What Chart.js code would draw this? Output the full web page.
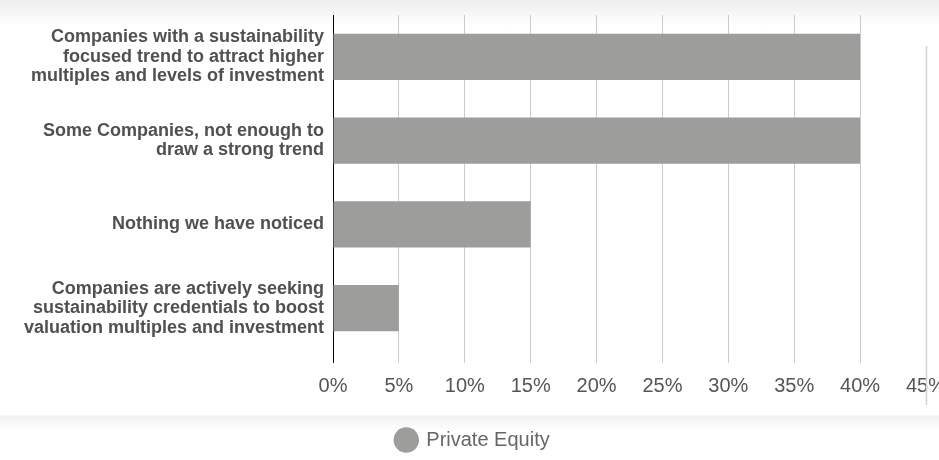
<!DOCTYPE html>
<html>
<head>
<meta charset="utf-8">
<title>Sustainability and valuations</title>
<script src="https://cdn.jsdelivr.net/npm/chart.js@4.4.1/dist/chart.umd.min.js"></script>
<style>
  html, body { margin: 0; padding: 0; }
  body {
    width: 939px;
    height: 460px;
    background:
      linear-gradient(to bottom, #eeeeee 0px, #ffffff 26px, #ffffff 100%) top / 100% 30px no-repeat,
      linear-gradient(to bottom, #ffffff 0px, #f1f1f1 1px, #ffffff 16px) 0 415px / 100% 20px no-repeat,
      #ffffff;
  }
  #wrap { position: relative; width: 939px; height: 460px; }
</style>
</head>
<body>
<div id="wrap"><canvas id="myChart"></canvas></div>
<script>
// categories (multi-line labels), series and axis ticks
const categories = [
  ['Companies with a sustainability', 'focused trend to attract higher', 'multiples and levels of investment'],
  ['Some Companies, not enough to', 'draw a strong trend'],
  ['Nothing we have noticed'],
  ['Companies are actively seeking', 'sustainability credentials to boost', 'valuation multiples and investment']
]
const privateEquity = [40, 40, 15, 5]
const tickMax = 45
const tickStep = 5

const FONT = "'Liberation Sans', Arial, Helvetica, sans-serif"

// last grid line sits a bit off the grid, drawn separately
const lastLine = {
  id: 'lastLine',
  afterDatasetsDraw (chart) {
    const x = Math.round(chart.scales.x.getPixelForValue(tickMax)) + 0.5
    const ctx = chart.ctx
    ctx.save()
    ctx.strokeStyle = '#d4d4d4'
    ctx.lineWidth = 1.5
    ctx.beginPath()
    ctx.moveTo(x, 46)
    ctx.lineTo(x, 405)
    ctx.stroke()
    ctx.restore()
  }
}

const ctx = document.getElementById('myChart')
const myChart = new Chart(ctx, {
  type: 'bar',
  data: {
    labels: categories,
    datasets: [{
      label: 'Private Equity',
      data: privateEquity,
      backgroundColor: '#9d9d9b',
      borderWidth: 0,
      barPercentage: 0.55,
      categoryPercentage: 1
    }]
  },
  options: {
    indexAxis: 'y',
    responsive: true,
    maintainAspectRatio: false,
    animation: false,
    layout: {
      padding: { top: 15, right: 13, left: 20, bottom: 0 }
    },
    scales: {
      x: {
        min: 0,
        max: tickMax,
        border: { display: false },
        grid: {
          tickLength: 13,
          lineWidth: 1,
          color: (c) => c.tick && c.tick.value === 0 ? '#000000' : (c.tick && c.tick.value === tickMax ? 'rgba(0,0,0,0)' : '#cccccc')
        },
        ticks: {
          stepSize: tickStep,
          padding: 11,
          color: '#555555',
          font: { family: FONT, size: 20 },
          maxRotation: 0,
          callback: (v) => v + '%'
        },
        afterFit (scale) {
          scale.height = 74
          scale.paddingLeft = 0
          scale.paddingRight = 0
        }
      },
      y: {
        border: { display: false },
        grid: { display: false, drawTicks: false },
        ticks: {
          padding: 9,
          color: '#505050',
          font: { family: FONT, size: 18, weight: 'bold', lineHeight: 1.08 }
        },
        afterFit (scale) {
          scale.width = 313
          scale.paddingTop = 0
          scale.paddingBottom = 0
        }
      }
    },
    plugins: {
      legend: {
        position: 'bottom',
        labels: {
          usePointStyle: true,
          pointStyle: 'circle',
          boxHeight: 18,
          padding: 6,
          color: '#666666',
          font: { family: FONT, size: 20 }
        }
      },
      tooltip: { enabled: false }
    }
  },
  plugins: [lastLine]
})
</script>
</body>
</html>
